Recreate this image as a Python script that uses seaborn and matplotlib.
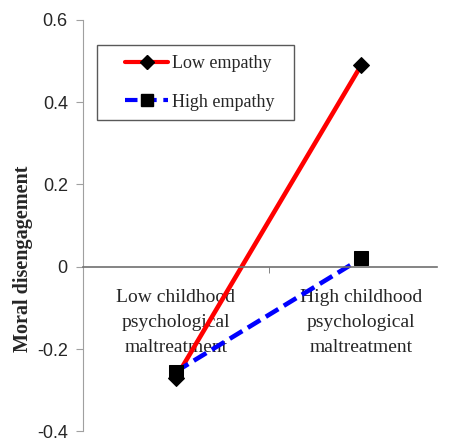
import seaborn as sns
import pandas as pd
import numpy as np
import matplotlib.pyplot as plt
from matplotlib.lines import Line2D
from matplotlib.legend_handler import HandlerLine2D

# valores
maltreatment = ["Low childhood\npsychological\nmaltreatment", "High childhood\npsychological\nmaltreatment"]
low_empathy = [-0.27, 0.49]
high_empathy = [-0.255, 0.02]
grupos = ["Low empathy", "High empathy"]
y_ticks = [-0.4, -0.2, 0, 0.2, 0.4, 0.6]
y_tick_labels = ["-0.4", "-0.2", "0", "0.2", "0.4", "0.6"]

df = pd.DataFrame({
    "x": [0, 1, 0, 1],
    "valor": low_empathy + high_empathy,
    "grupo": [grupos[0]] * 2 + [grupos[1]] * 2,
})

sns.set_style("white")
plt.rcParams['font.family'] = ['Liberation Serif', 'DejaVu Serif']

fig = plt.figure(figsize=(4.54, 4.41), dpi=100)
ax = fig.add_axes([0.183, 0.022, 0.817, 0.933])

sns.lineplot(data=df, x="x", y="valor", hue="grupo", style="grupo",
             palette={grupos[0]: "#ff0000", grupos[1]: "#0000ff"},
             dashes={grupos[0]: "", grupos[1]: (3.2, 1.4)},
             markers={grupos[0]: "D", grupos[1]: "s"},
             markersize=10, linewidth=3.3, ax=ax, legend=False)
for l in ax.lines:
    l.set_markerfacecolor("black")
    l.set_markeredgecolor("black")
# diamante um pouco menor
ax.lines[0].set_markersize(8.5)

ax.set_xlim(-0.5, 1.5)
ax.set_ylim(-0.4, 0.6)

ax.spines['top'].set_visible(False)
ax.spines['right'].set_visible(False)
ax.spines['left'].set_color("#a0a0a0")
ax.spines['bottom'].set_position(('data', 0))
ax.spines['bottom'].set_color("#707070")
ax.spines['bottom'].set_linewidth(1.2)
ax.spines['bottom'].set_bounds(-0.5, 1.41)

ax.set_yticks(y_ticks, y_tick_labels, fontfamily=['Liberation Sans', 'DejaVu Sans'], fontsize=13)
ax.tick_params(axis='y', left=True, length=5, color="#a0a0a0", pad=6)

ax.set_xticks([0, 1], maltreatment, fontsize=14, linespacing=1.6)
ax.tick_params(axis='x', which='major', length=0, pad=16)
ax.set_xticks([0.5], minor=True)
ax.tick_params(axis='x', which='minor', bottom=True, length=4, color="#707070", direction='out')

ax.set_xlabel("")
ax.set_ylabel("Moral disengagement", fontsize=14.5, fontweight='bold')
ax.yaxis.set_label_coords(-0.135, 0.42)

handles = [
    Line2D([], [], color="#ff0000", lw=3, marker="D", markersize=7, markerfacecolor="black", markeredgecolor="black"),
    Line2D([], [], color="#0000ff", lw=3, ls=(0, (3, 1.6)), marker="s", markersize=9, markerfacecolor="black", markeredgecolor="black"),
]
leg = ax.legend(handles, [g + "  " for g in grupos], loc='upper left', bbox_to_anchor=(0.038, 0.939),
                borderaxespad=0, fontsize=13, handlelength=3.4, handletextpad=0.2,
                frameon=True, fancybox=False, edgecolor="#303030", borderpad=0.55,
                labelspacing=1.2, handler_map={Line2D: HandlerLine2D(xpad=1.0)})
leg.get_frame().set_linewidth(1)

plt.savefig("out.png", dpi=100)
